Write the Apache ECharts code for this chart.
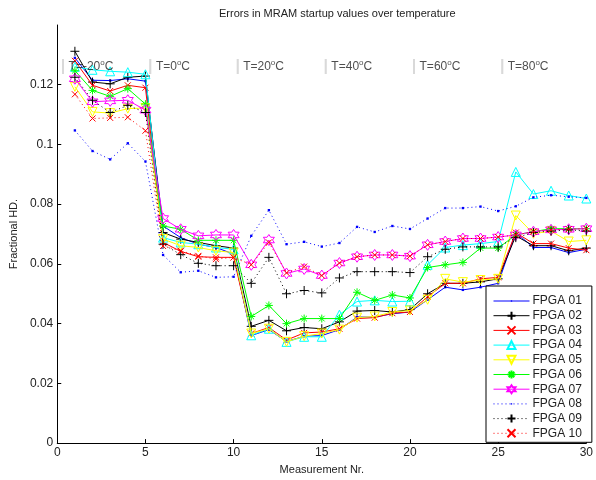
<!DOCTYPE html>
<html><head><meta charset="utf-8">
<script src="https://cdn.jsdelivr.net/npm/echarts@6/dist/echarts.min.js"></script>
<style>html,body{margin:0;padding:0;background:#fff}#c{width:596px;height:480px}</style>
</head><body><div id="c"></div>
<script>
const measurements = Array.from({length: 30}, (_, i) => i + 1);
const seriesNames = ['FPGA 01','FPGA 02','FPGA 03','FPGA 04','FPGA 05','FPGA 06','FPGA 07','FPGA 08','FPGA 09','FPGA 10'];
const fpga01 = [0.129,0.1215,0.1214,0.122,0.1212,0.0727,0.0688,0.0666,0.0655,0.0633,0.036,0.038,0.034,0.0358,0.036,0.038,0.0422,0.0422,0.0433,0.0439,0.048,0.0522,0.0513,0.0522,0.0535,0.0705,0.0655,0.0655,0.0638,0.0649];
const fpga02 = [0.1312,0.1209,0.1203,0.1225,0.1229,0.0705,0.0683,0.0672,0.0661,0.0653,0.0391,0.0411,0.0376,0.0387,0.0383,0.0406,0.0442,0.0444,0.0439,0.0447,0.05,0.0535,0.0535,0.054,0.055,0.0694,0.0661,0.0661,0.0644,0.0653];
const fpga03 = [0.128,0.1198,0.1179,0.1198,0.119,0.0672,0.0642,0.0624,0.0622,0.0622,0.0367,0.0387,0.0345,0.0369,0.0372,0.0383,0.0417,0.042,0.0435,0.0439,0.049,0.0535,0.0535,0.055,0.0555,0.0705,0.0668,0.0668,0.0653,0.0646];
const fpga04 = [0.126,0.125,0.1245,0.1242,0.1235,0.0688,0.0672,0.0666,0.0655,0.0649,0.0361,0.0383,0.0339,0.0356,0.0356,0.043,0.0474,0.0478,0.0474,0.0475,0.0597,0.0655,0.0663,0.0668,0.0675,0.0908,0.0834,0.0845,0.0829,0.0819];
const fpga05 = [0.1193,0.1109,0.1105,0.112,0.1122,0.0683,0.0661,0.0655,0.0644,0.0638,0.0367,0.0383,0.0339,0.0358,0.0367,0.038,0.042,0.0424,0.0439,0.0444,0.048,0.055,0.0539,0.0546,0.055,0.0762,0.0701,0.071,0.0675,0.0679];
const fpga06 = [0.1247,0.1181,0.1161,0.1187,0.1135,0.0727,0.0716,0.0679,0.0679,0.0679,0.0424,0.0461,0.04,0.0417,0.0417,0.0417,0.0505,0.0478,0.0496,0.0486,0.0588,0.0597,0.0605,0.0653,0.0653,0.0697,0.0708,0.0718,0.0718,0.0718];
const fpga07 = [0.122,0.1143,0.1146,0.1148,0.1115,0.0752,0.0716,0.0694,0.0697,0.0697,0.0597,0.068,0.0568,0.0583,0.0561,0.0603,0.0624,0.063,0.063,0.0626,0.0664,0.0675,0.0685,0.0685,0.069,0.0697,0.0708,0.0714,0.0716,0.0718];
const fpga08 = [0.1047,0.0978,0.095,0.1004,0.0943,0.063,0.0572,0.0577,0.0555,0.0557,0.0694,0.078,0.0666,0.0674,0.0658,0.067,0.0724,0.0707,0.0727,0.0717,0.0752,0.0787,0.0787,0.0792,0.0777,0.0793,0.0823,0.083,0.0825,0.0821];
const fpga09 = [0.1225,0.1148,0.1107,0.1131,0.1107,0.0666,0.0631,0.0602,0.0594,0.0594,0.0535,0.0622,0.05,0.0511,0.0503,0.0553,0.0574,0.0574,0.0574,0.0571,0.0624,0.0649,0.0657,0.0657,0.0657,0.0688,0.0705,0.071,0.0714,0.071];
const fpga10 = [0.1168,0.1087,0.1089,0.1091,0.1046,0.066,0.0644,0.0627,0.0616,0.0622,0.0597,0.0672,0.057,0.0591,0.0561,0.0603,0.0624,0.063,0.063,0.0626,0.0664,0.0675,0.0685,0.0685,0.069,0.0697,0.0708,0.0714,0.0716,0.0718];
const tempLabels = ['T=-20', 'T=0', 'T=20', 'T=40', 'T=60', 'T=80'];
const tempX = [0.2, 5.15, 10.1, 15.1, 20.1, 25.1];
const tempY = 0.126;

const allValues = [fpga01,fpga02,fpga03,fpga04,fpga05,fpga06,fpga07,fpga08,fpga09,fpga10];
const colors = ['#0000ff','#000000','#ff0000','#00ffff','#ffff00','#00ff00','#ff00ff','#0000ff','#000000','#ff0000'];
const dotted = [false,false,false,false,false,false,false,true,true,true];
const DOT = 'path://M0,0M12,12M5,5L7,5L7,7L5,7Z';
const PLUS = 'path://M5,0L5,10M0,5L10,5';
const CROSS = 'path://M0,0L10,10M10,0L0,10';
const ASTER = 'path://M5,0L5,10M0,5L10,5M1.5,1.5L8.5,8.5M8.5,1.5L1.5,8.5';
const HEXA = 'path://M5,0L6.443,2.5L9.33,2.5L7.887,5L9.33,7.5L6.443,7.5L5,10L3.557,7.5L0.67,7.5L2.113,5L0.67,2.5L3.557,2.5Z';
const markers = [
  {s:DOT, size:14, fill:true},
  {s:PLUS, size:9},
  {s:CROSS, size:6},
  {s:'triangle', size:9},
  {s:'triangle', size:9, rot:180},
  {s:ASTER, size:8},
  {s:HEXA, size:11},
  {s:DOT, size:14, fill:true},
  {s:PLUS, size:9},
  {s:CROSS, size:6}
];

const series = allValues.map((vals, k) => {
  const m = markers[k];
  return {
    name: seriesNames[k],
    type: 'line',
    data: measurements.map((x, i) => [x, vals[i]]),
    symbol: m.s,
    symbolSize: m.size,
    symbolRotate: m.rot || 0,
    showAllSymbol: true,
    lineStyle: {color: colors[k], width: 1, type: dotted[k] ? [1, 3] : 'solid'},
    itemStyle: m.fill ? {color: colors[k], borderWidth: 0} : {color: 'rgba(255,255,255,0)', borderColor: colors[k], borderWidth: 1},
    emphasis: {disabled: true},
    z: 2 + k
  };
});

series.push({
  name: 'temps',
  type: 'scatter',
  symbolSize: 0,
  data: tempX.map((x, i) => [x, tempY]),
  label: {
    show: true, position: 'right', distance: 0,
    formatter: p => '{b||} {t|' + tempLabels[p.dataIndex] + '}{s|o}{t|C}',
    rich: {
      b: {color: '#d0d0d0', fontSize: 16, fontWeight: 'bold', fontFamily: 'Liberation Sans'},
      t: {color: '#222', fontSize: 12, fontFamily: 'Liberation Sans', lineHeight: 14},
      s: {color: '#222', fontSize: 8, fontFamily: 'Liberation Sans', verticalAlign: 'top', lineHeight: 14, padding: [0, 0, 6, 0]}
    }
  },
  silent: true,
  z: 20
});

const chart = echarts.init(document.getElementById('c'), null, {renderer: 'canvas'});
chart.setOption({
  animation: false,
  backgroundColor: '#fff',
  textStyle: {fontFamily: 'Liberation Sans'},
  title: {text: 'Errors in MRAM startup values over temperature', left: 214, top: 3,
    textStyle: {fontSize: 11, fontWeight: 'normal', color: '#222', fontFamily: 'Liberation Sans'}},
  grid: {left: 56, right: 4, top: 25, bottom: 33, containLabel: false},
  xAxis: {
    type: 'value', min: 0, max: 30, interval: 5,
    name: 'Measurement Nr.', nameLocation: 'middle', nameGap: 14,
    nameTextStyle: {fontSize: 11, color: '#222'},
    axisLine: {lineStyle: {color: '#000', width: 1}},
    axisTick: {inside: true, length: 4, lineStyle: {color: '#000'}},
    axisLabel: {fontSize: 12, color: '#222', margin: 4},
    splitLine: {show: false}
  },
  yAxis: {
    type: 'value', min: 0, max: 0.14, interval: 0.02,
    name: 'Fractional HD.', nameLocation: 'middle', nameGap: 26,
    nameTextStyle: {fontSize: 11, color: '#222'},
    axisLine: {show: true, lineStyle: {color: '#000', width: 1}},
    axisTick: {show: true, inside: true, length: 4, lineStyle: {color: '#000'}},
    axisLabel: {fontSize: 12, color: '#222', margin: 4, showMaxLabel: false,
      formatter: v => (v >= 0.139 ? '' : String(Math.round(v * 100) / 100))},
    splitLine: {show: false}
  },
  legend: {
    data: seriesNames,
    orient: 'vertical', left: 486, top: 286,
    itemWidth: 36, itemHeight: 10, itemGap: 2.7,
    padding: [9, 10, 3, 7],
    lineStyle: {width: 1},
    backgroundColor: '#fff', borderColor: '#000', borderWidth: 1,
    textStyle: {fontSize: 12, lineHeight: 10, color: '#222', fontFamily: 'Liberation Sans', padding: [0, 0, 0, -2]},
    selectedMode: false
  },
  series: series
});
</script>
</body></html>
